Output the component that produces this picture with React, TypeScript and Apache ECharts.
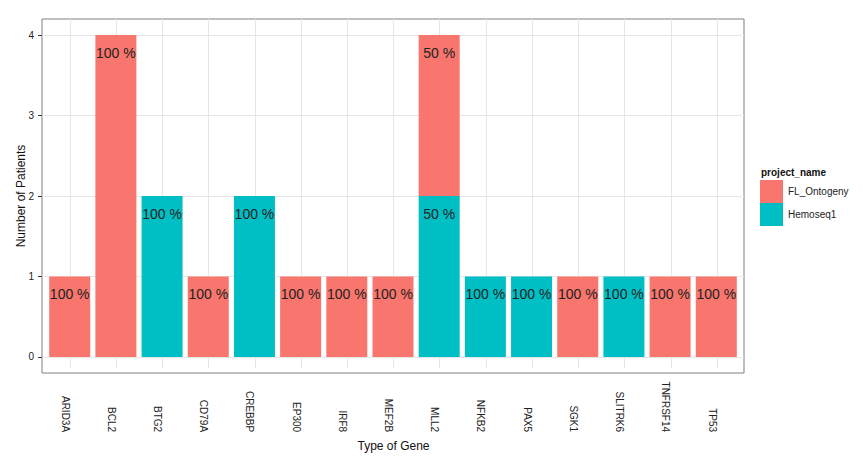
import React, { useEffect, useRef } from "react";
import * as echarts from "echarts";

const genes = ["ARID3A", "BCL2", "BTG2", "CD79A", "CREBBP", "EP300", "IRF8", "MEF2B", "MLL2", "NFKB2", "PAX5", "SGK1", "SLITRK6", "TNFRSF14", "TP53"];
const flOntogeny = [1, 4, null, 1, null, 1, 1, 1, 2, null, null, 1, null, 1, 1];
const hemoseq1 = [null, null, 2, null, 2, null, null, null, 2, 1, 1, null, 1, null, null];
const yTicks = [0, 1, 2, 3, 4];

const FL_COLOR = "#F8766D";
const HS_COLOR = "#00BFC4";

const totals = genes.map((_, i) => (flOntogeny[i] || 0) + (hemoseq1[i] || 0));
const pct = (v: number | null, i: number) => (v == null ? "" : `${Math.round((v / totals[i]) * 100)} %`);

export default function App() {
  const ref = useRef<HTMLDivElement>(null);
  useEffect(() => {
    if (!ref.current) return;
    document.body.style.margin = "0";
    const chart = echarts.init(ref.current, null, { renderer: "svg" });
    const gridTop = 19;
    const gridHeight = 354;
    const labelStyle = {
      show: true,
      position: "insideTop" as const,
      distance: 11,
      fontSize: 14,
      color: "#222",
      fontFamily: "Liberation Sans, Arial, sans-serif",
    };
    chart.setOption({
      animation: false,
      backgroundColor: "#fff",
      textStyle: { fontFamily: "Liberation Sans, Arial, sans-serif" },
      grid: [
        { left: 42, top: gridTop, width: 702, height: gridHeight, show: true, borderColor: "#7f7f7f", borderWidth: 1, backgroundColor: "transparent" },
        { left: 70, top: gridTop, width: 647, height: gridHeight, show: false },
      ],
      xAxis: [
        { type: "value", gridIndex: 0, min: -0.6, max: 14.6, show: false },
        {
          type: "category",
          gridIndex: 1,
          data: genes,
          boundaryGap: false,
          name: "Type of Gene",
          nameLocation: "middle",
          nameGap: 71,
          nameTextStyle: { fontSize: 12, color: "#111" },
          axisLine: { show: false },
          axisTick: { show: true, length: 4, lineStyle: { color: "#333" }, alignWithLabel: true },
          splitLine: { show: true, lineStyle: { color: "#e6e6e6", width: 1 } },
          axisLabel: {
            rotate: -90,
            align: "right",
            verticalAlign: "top",
            margin: 64,
            fontSize: 10,
            color: "#222",
            interval: 0,
          },
        },
      ],
      yAxis: [
        {
          type: "value",
          gridIndex: 0,
          min: -0.2,
          max: 4.2,
          name: "Number of Patients",
          nameLocation: "middle",
          nameGap: 15,
          nameMoveOverlap: false,
          nameTextStyle: { fontSize: 12, color: "#111" },
          axisLine: { show: false, onZero: false },
          axisTick: { show: true, length: 4, lineStyle: { color: "#333" }, customValues: yTicks },
          splitLine: { show: true, lineStyle: { color: "#e6e6e6", width: 1 } },
          axisLabel: {
            fontSize: 10,
            color: "#222",
            margin: 8,
            customValues: yTicks,
          },
        },
        { type: "value", gridIndex: 1, min: -0.2, max: 4.2, show: false },
      ],
      legend: {
        orient: "vertical",
        left: 760,
        top: 180,
        padding: 0,
        itemWidth: 23,
        itemHeight: 23,
        itemGap: 0,
        icon: "rect",
        data: ["FL_Ontogeny", "Hemoseq1"],
        textStyle: { fontSize: 10, color: "#222" },
      },
      graphic: [
        {
          type: "text",
          left: 761,
          top: 167,
          style: { text: "project_name", fontSize: 10, fontWeight: "bold", fill: "#111", fontFamily: "Liberation Sans, Arial, sans-serif" },
        },
      ],
      series: [
        {
          name: "Hemoseq1",
          type: "bar",
          xAxisIndex: 0,
          yAxisIndex: 0,
          stack: "total",
          barWidth: 41,
          itemStyle: { color: HS_COLOR },
          encode: { x: 1, y: 0 },
          data: hemoseq1.map((v, i) => [v, i]),
          label: { ...labelStyle, formatter: (p: any) => pct(hemoseq1[p.dataIndex], p.dataIndex) },
        },
        {
          name: "FL_Ontogeny",
          type: "bar",
          xAxisIndex: 0,
          yAxisIndex: 0,
          stack: "total",
          barWidth: 41,
          itemStyle: { color: FL_COLOR },
          encode: { x: 1, y: 0 },
          data: flOntogeny.map((v, i) => [v, i]),
          label: { ...labelStyle, formatter: (p: any) => pct(flOntogeny[p.dataIndex], p.dataIndex) },
        },
      ],
    });
    return () => chart.dispose();
  }, []);
  return <div ref={ref} style={{ width: 863, height: 457 }} />;
}
